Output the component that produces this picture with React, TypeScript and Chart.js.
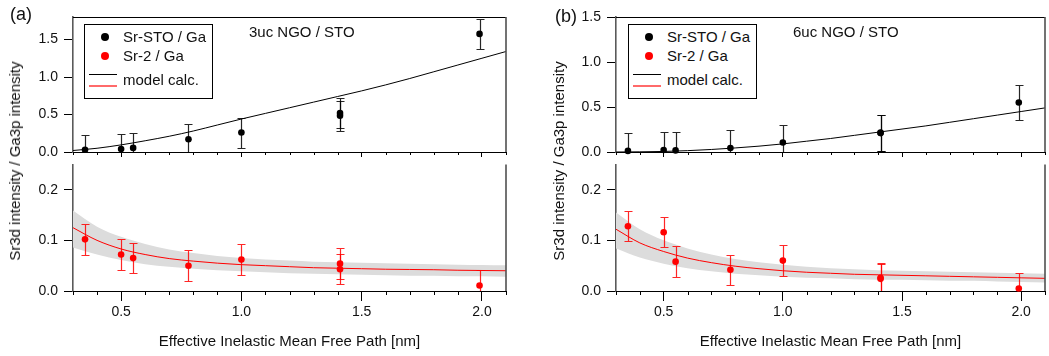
import React, { useEffect, useRef } from 'react';
import { Chart, registerables } from 'chart.js';

Chart.register(...registerables);

const FONT = "'Liberation Sans', Arial, Helvetica, sans-serif";
Chart.defaults.font.family = FONT;

// ---------- data ----------
const pointX = [0.35, 0.5, 0.55, 0.78, 1.0, 1.41, 1.41, 1.99];

// (a) 3uc NGO / STO
const srStoGaA = [0.03, 0.04, 0.055, 0.17, 0.26, 0.52, 0.485, 1.575];
const srStoGaErrA = [0.2, 0.2, 0.2, 0.2, 0.2, 0.2, 0.2, 0.2];
const sr2GaA = [0.102, 0.072, 0.065, 0.05, 0.062, 0.054, 0.043, 0.011];
const sr2GaErrA = [0.03, 0.03, 0.03, 0.03, 0.03, 0.03, 0.03, 0.03];

// (b) 6uc NGO / STO
const srStoGaB = [0.012, 0.022, 0.018, 0.045, 0.105, 0.215, 0.21, 0.55];
const srStoGaErrB = [0.2, 0.2, 0.2, 0.2, 0.2, 0.2, 0.2, 0.2];
const sr2GaB = [0.128, 0.116, 0.058, 0.042, 0.06, 0.026, 0.024, 0.005];
const sr2GaErrB = [0.03, 0.03, 0.03, 0.03, 0.03, 0.03, 0.03, 0.03];

// model calculation curves
const modelX = [0.3, 0.4, 0.5, 0.6, 0.7, 0.8, 0.9, 1.0, 1.1, 1.2, 1.3, 1.4, 1.5, 1.6, 1.7, 1.8, 1.9, 2.0, 2.1];
const modelTopA = [0.02, 0.05, 0.095, 0.15, 0.21, 0.28, 0.36, 0.44, 0.515, 0.59, 0.665, 0.74, 0.815, 0.895, 0.98, 1.07, 1.16, 1.25, 1.34];
const modelBotA = [0.125, 0.1, 0.083, 0.072, 0.064, 0.059, 0.055, 0.052, 0.05, 0.048, 0.046, 0.045, 0.044, 0.043, 0.0425, 0.042, 0.041, 0.0405, 0.04];
const bandUpA = [0.159, 0.127, 0.107, 0.093, 0.082, 0.075, 0.069, 0.065, 0.062, 0.06, 0.058, 0.057, 0.056, 0.055, 0.054, 0.053, 0.052, 0.0515, 0.051];
const bandLoA = [0.086, 0.072, 0.061, 0.053, 0.048, 0.044, 0.041, 0.039, 0.037, 0.035, 0.034, 0.033, 0.032, 0.031, 0.03, 0.03, 0.029, 0.029, 0.028];

const modelTopB = [0.0, 0.002, 0.006, 0.015, 0.028, 0.045, 0.065, 0.09, 0.12, 0.15, 0.185, 0.22, 0.255, 0.29, 0.33, 0.37, 0.41, 0.45, 0.49];
const modelBotB = [0.122, 0.095, 0.078, 0.065, 0.056, 0.049, 0.044, 0.04, 0.037, 0.035, 0.033, 0.032, 0.031, 0.03, 0.029, 0.028, 0.027, 0.026, 0.025];
const bandUpB = [0.155, 0.122, 0.1, 0.084, 0.072, 0.063, 0.057, 0.052, 0.048, 0.045, 0.043, 0.041, 0.04, 0.039, 0.038, 0.037, 0.036, 0.035, 0.034];
const bandLoB = [0.084, 0.066, 0.054, 0.045, 0.039, 0.034, 0.031, 0.028, 0.026, 0.025, 0.023, 0.022, 0.022, 0.021, 0.02, 0.02, 0.019, 0.018, 0.017];

// axes
const xMin = 0.3;
const xMax = 2.1;
const majorTicksX = [0.5, 1.0, 1.5, 2.0];
const minorTicksX = [0.3, 0.4, 0.6, 0.7, 0.8, 0.9, 1.1, 1.2, 1.3, 1.4, 1.6, 1.7, 1.8, 1.9, 2.1];
const topTicksY = [0, 0.5, 1.0, 1.5];
const botTicksY = [0, 0.1, 0.2];
const topMaxA = 1.8;
const topMaxB = 1.5;
const botMax = 0.25;

const xTitle = 'Effective Inelastic Mean Free Path [nm]';
const yTitle = 'Sr3d intensity / Ga3p intensity';

// ---------- plugins ----------
const errorBarsPlugin = {
  id: 'errorBars',
  beforeDatasetDraw(chart: any, args: any) {
    const ds: any = chart.data.datasets[args.index];
    if (!ds.errorBars) return;
    const { ctx, chartArea: ca, scales } = chart;
    ctx.save();
    ctx.beginPath();
    ctx.rect(ca.left, ca.top, ca.right - ca.left, ca.bottom - ca.top);
    ctx.clip();
    ctx.strokeStyle = ds.errorBarColor;
    ctx.lineWidth = 1.2;
    const cap = 4;
    ds.data.forEach((p: any, j: number) => {
      const e = ds.errorBars[j];
      const px = Math.round(scales.x.getPixelForValue(p.x)) + 0.5;
      const yt = Math.round(scales.y.getPixelForValue(p.y + e)) + 0.5;
      const yb = Math.round(scales.y.getPixelForValue(p.y - e)) + 0.5;
      ctx.beginPath();
      ctx.moveTo(px, yt);
      ctx.lineTo(px, yb);
      ctx.moveTo(px - cap, yt);
      ctx.lineTo(px + cap, yt);
      ctx.moveTo(px - cap, yb);
      ctx.lineTo(px + cap, yb);
      ctx.stroke();
    });
    ctx.restore();
  },
};

const minorTicksPlugin = {
  id: 'minorTicks',
  afterDraw(chart: any, _args: any, opts: any) {
    const { ctx, chartArea: ca, scales } = chart;
    ctx.save();
    ctx.strokeStyle = '#000';
    ctx.lineWidth = 1;
    minorTicksX.forEach((v) => {
      const px = Math.round(scales.x.getPixelForValue(v)) + 0.5;
      ctx.beginPath();
      ctx.moveTo(px, ca.bottom);
      ctx.lineTo(px, ca.bottom + opts.length);
      ctx.stroke();
    });
    ctx.restore();
  },
};

const framePlugin = {
  id: 'frame',
  afterDraw(chart: any, _args: any, opts: any) {
    const { ctx, chartArea: ca } = chart;
    ctx.save();
    if (opts.top) {
      ctx.strokeStyle = '#000';
      ctx.lineWidth = 1;
      const y = Math.round(ca.top) + 0.5;
      ctx.beginPath();
      ctx.moveTo(ca.left, y);
      ctx.lineTo(ca.right, y);
      ctx.stroke();
    }
    ctx.strokeStyle = '#505050';
    ctx.lineWidth = 1.6;
    ctx.beginPath();
    ctx.moveTo(ca.right, ca.top);
    ctx.lineTo(ca.right, ca.bottom);
    ctx.stroke();
    ctx.restore();
  },
};

// ---------- chart builder ----------
type Spec = {
  left: number; top: number; w: number; h: number;
  padTop: number; padRight: number; yW: number; xH: number;
  points: number[]; errs: number[]; color: string; errColor: string;
  model: number[]; bandUp?: number[]; bandLo?: number[];
  yMax: number; yTicks: number[];
  bottom: boolean;
};

const toXY = (xs: number[], ys: number[]) => xs.map((x, i) => ({ x, y: ys[i] }));

function buildChart(canvas: HTMLCanvasElement, s: Spec) {
  const datasets: any[] = [
    {
      label: 'points',
      data: toXY(pointX, s.points),
      showLine: false,
      pointRadius: 3.3,
      pointBackgroundColor: s.color,
      pointBorderColor: s.color,
      pointBorderWidth: 0,
      clip: false,
      errorBars: s.errs,
      errorBarColor: s.errColor,
    },
    {
      label: 'model',
      data: toXY(modelX, s.model),
      borderColor: s.color,
      borderWidth: 1,
      pointRadius: 0,
      cubicInterpolationMode: 'monotone',
      fill: false,
    },
  ];
  if (s.bandUp && s.bandLo) {
    datasets.push(
      {
        label: 'bandUp',
        data: toXY(modelX, s.bandUp),
        borderWidth: 0,
        borderColor: 'rgba(0,0,0,0)',
        pointRadius: 0,
        cubicInterpolationMode: 'monotone',
        fill: '+1',
        backgroundColor: '#dcdcdc',
      },
      {
        label: 'bandLo',
        data: toXY(modelX, s.bandLo),
        borderWidth: 0,
        borderColor: 'rgba(0,0,0,0)',
        pointRadius: 0,
        cubicInterpolationMode: 'monotone',
        fill: false,
      }
    );
  }
  const fmt = (v: any) => Number(v).toFixed(1);
  return new Chart(canvas, {
    type: 'line',
    data: { datasets },
    plugins: [errorBarsPlugin, minorTicksPlugin, framePlugin],
    options: {
      responsive: false,
      maintainAspectRatio: false,
      animation: false,
      events: [],
      layout: { padding: { top: s.padTop, right: s.padRight, left: 0, bottom: 0 } },
      plugins: {
        legend: { display: false },
        tooltip: { enabled: false },
        minorTicks: { length: s.bottom ? 4 : 3 },
        frame: { top: !s.bottom },
      } as any,
      scales: {
        x: {
          type: 'linear',
          min: xMin,
          max: xMax,
          afterBuildTicks: (sc: any) => {
            sc.ticks = majorTicksX.map((v) => ({ value: v }));
          },
          afterFit: (sc: any) => {
            sc.height = s.xH;
          },
          grid: {
            drawOnChartArea: false,
            drawTicks: true,
            tickLength: s.bottom ? 10 : 5,
            tickColor: '#000',
            tickWidth: 1,
          },
          border: { display: true, color: '#000', width: 1 },
          ticks: {
            display: s.bottom,
            color: '#111',
            font: { size: 14, family: FONT },
            padding: 3,
            maxRotation: 0,
            autoSkip: false,
            callback: fmt,
          },
          title: {
            display: s.bottom,
            text: xTitle,
            color: '#111',
            font: { size: 15, family: FONT },
            padding: { top: 0, bottom: 5 },
          },
        },
        y: {
          type: 'linear',
          min: 0,
          max: s.yMax,
          afterBuildTicks: (sc: any) => {
            sc.ticks = s.yTicks.map((v) => ({ value: v }));
          },
          afterFit: (sc: any) => {
            sc.width = s.yW;
          },
          grid: {
            drawOnChartArea: false,
            drawTicks: true,
            tickLength: 9,
            tickColor: '#000',
            tickWidth: 1,
          },
          border: { display: true, color: '#5a5a5a', width: 1.6 },
          ticks: {
            color: '#111',
            font: { size: 14, family: FONT },
            padding: 6,
            autoSkip: false,
            callback: fmt,
          },
        },
      } as any,
    },
  } as any);
}

const specs: Spec[] = [
  {
    left: 0, top: 0, w: 520, h: 170, padTop: 17, padRight: 14, yW: 73, xH: 18,
    points: srStoGaA, errs: srStoGaErrA, color: '#000', errColor: 'rgba(0,0,0,0.85)',
    model: modelTopA, yMax: topMaxA, yTicks: topTicksY, bottom: false,
  },
  {
    left: 0, top: 150, w: 520, h: 206, padTop: 7, padRight: 14, yW: 73, xH: 65,
    points: sr2GaA, errs: sr2GaErrA, color: '#ff0000', errColor: 'rgba(255,0,0,0.85)',
    model: modelBotA, bandUp: bandUpA, bandLo: bandLoA, yMax: botMax, yTicks: botTicksY, bottom: true,
  },
  {
    left: 520, top: 0, w: 529, h: 170, padTop: 17, padRight: 0, yW: 96, xH: 18,
    points: srStoGaB, errs: srStoGaErrB, color: '#000', errColor: 'rgba(0,0,0,0.85)',
    model: modelTopB, yMax: topMaxB, yTicks: topTicksY, bottom: false,
  },
  {
    left: 520, top: 150, w: 529, h: 206, padTop: 7, padRight: 0, yW: 96, xH: 65,
    points: sr2GaB, errs: sr2GaErrB, color: '#ff0000', errColor: 'rgba(255,0,0,0.85)',
    model: modelBotB, bandUp: bandUpB, bandLo: bandLoB, yMax: botMax, yTicks: botTicksY, bottom: true,
  },
];

// ---------- HTML pieces ----------
const textStyle: React.CSSProperties = {
  position: 'absolute',
  fontFamily: FONT,
  fontSize: 15,
  lineHeight: '18px',
  color: '#111',
  whiteSpace: 'nowrap',
};

function Dot({ x, y, color }: { x: number; y: number; color: string }) {
  return (
    <div
      style={{
        position: 'absolute',
        left: x - 4,
        top: y - 4,
        width: 8,
        height: 8,
        borderRadius: '50%',
        background: color,
      }}
    />
  );
}

function Legend({ left, top }: { left: number; top: number }) {
  return (
    <div
      style={{
        position: 'absolute',
        left,
        top,
        width: 129,
        height: 75,
        border: '1px solid #000',
        boxSizing: 'border-box',
        background: '#fff',
      }}
    >
      <Dot x={20} y={11.7} color="#000" />
      <div style={{ ...textStyle, left: 38, top: 3 }}>Sr-STO / Ga</div>
      <Dot x={20} y={30.7} color="#ff0000" />
      <div style={{ ...textStyle, left: 38, top: 22 }}>Sr-2 / Ga</div>
      <div style={{ position: 'absolute', left: 4, top: 49, width: 28, height: 1, background: '#000' }} />
      <div style={{ position: 'absolute', left: 4, top: 60, width: 28, height: 1.5, background: '#ff6a6a' }} />
      <div style={{ ...textStyle, left: 38, top: 46 }}>model calc.</div>
    </div>
  );
}

export default function App() {
  const r0 = useRef<HTMLCanvasElement>(null);
  const r1 = useRef<HTMLCanvasElement>(null);
  const r2 = useRef<HTMLCanvasElement>(null);
  const r3 = useRef<HTMLCanvasElement>(null);
  const refs = [r0, r1, r2, r3];

  useEffect(() => {
    document.body.style.margin = '0';
    const charts = specs.map((s, i) => buildChart(refs[i].current as HTMLCanvasElement, s));
    return () => charts.forEach((c) => c.destroy());
  }, []);

  return (
    <div
      style={{
        position: 'fixed',
        left: 0,
        top: 0,
        width: 1049,
        height: 356,
        background: '#fff',
        overflow: 'hidden',
      }}
    >
      {specs.map((s, i) => (
        <canvas
          key={i}
          ref={refs[i]}
          width={s.w}
          height={s.h}
          style={{ position: 'absolute', left: s.left, top: s.top, width: s.w, height: s.h }}
        />
      ))}
      <div style={{ ...textStyle, fontSize: 18, lineHeight: '20px', left: 10, top: 4 }}>(a)</div>
      <div style={{ ...textStyle, fontSize: 18, lineHeight: '20px', left: 555, top: 6 }}>(b)</div>
      <div style={{ ...textStyle, left: 249, top: 23 }}>3uc NGO / STO</div>
      <div style={{ ...textStyle, left: 793, top: 23 }}>6uc NGO / STO</div>
      <Legend left={84} top={24} />
      <Legend left={628} top={24} />
      <div
        style={{
          ...textStyle,
          left: 15,
          top: 161,
          transform: 'translate(-50%, -50%) rotate(-90deg)',
        }}
      >
        {yTitle}
      </div>
      <div
        style={{
          ...textStyle,
          left: 559,
          top: 161,
          transform: 'translate(-50%, -50%) rotate(-90deg)',
        }}
      >
        {yTitle}
      </div>
    </div>
  );
}
